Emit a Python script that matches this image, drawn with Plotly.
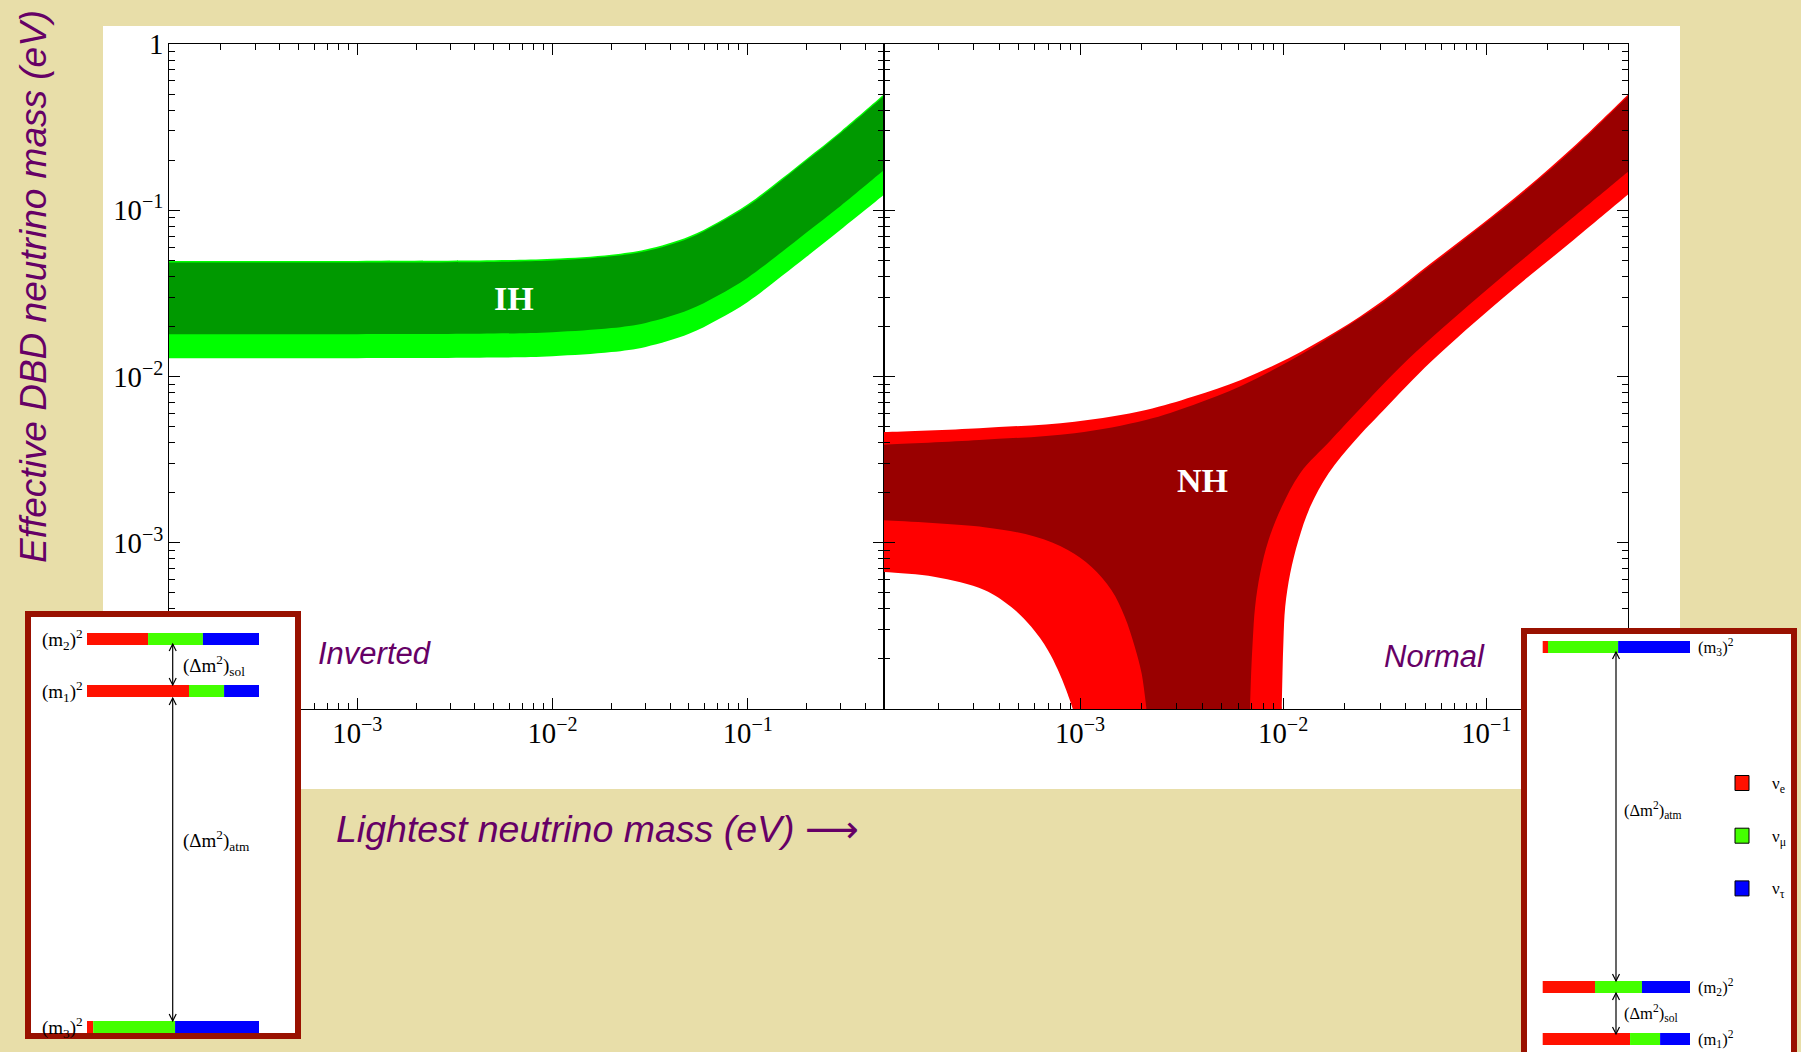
import plotly.graph_objects as go

# ---------------- data ----------------
# Inverted hierarchy band (left panel)
ih_m = [1.0e-4, 1e-3, 5e-3, 0.01, 0.02, 0.03, 0.05, 0.07, 0.1, 0.15, 0.2, 0.3, 0.5]
ih_outer_upper = [0.0496, 0.0496, 0.0500, 0.0510, 0.0540, 0.0580, 0.0695, 0.0845, 0.1085, 0.1555, 0.2035, 0.2980, 0.4990]
ih_inner_upper = [0.0485, 0.0485, 0.0489, 0.0498, 0.0528, 0.0567, 0.0679, 0.0826, 0.1060, 0.1520, 0.1990, 0.2915, 0.4880]
ih_inner_lower = [0.01797, 0.01797, 0.01812, 0.01848, 0.01956, 0.02101, 0.02518, 0.03061, 0.03930, 0.05630, 0.0735, 0.1065, 0.1750]
ih_outer_lower = [0.01288, 0.01288, 0.01299, 0.01324, 0.01402, 0.01506, 0.01805, 0.02194, 0.02810, 0.04030, 0.05250, 0.0765, 0.1240]

# Normal hierarchy band (right panel)
nh_up_m = [1.0e-4, 3.19e-4, 9.4e-4, 2.11e-3, 3.61e-3, 6.2e-3, 1.064e-2, 1.824e-2, 3.13e-2, 5.36e-2, 9.2e-2, 0.158, 0.27, 0.5]
nh_outer_upper = [0.00462, 0.00489, 0.00535, 0.00629, 0.00757, 0.00954, 0.01288, 0.01862, 0.0289, 0.0481, 0.0798, 0.136, 0.2415, 0.499]
nh_inner_upper = [0.00387, 0.00415, 0.00456, 0.00548, 0.00675, 0.00878, 0.0123, 0.01822, 0.0281, 0.0468, 0.0778, 0.1325, 0.235, 0.487]

nh_outer_lowR_m = [0.5, 0.270, 0.1205, 0.0536, 0.0313, 0.0227, 0.01675, 0.01361, 0.01191, 0.01084, 0.01024, 0.01004, 0.00993, 0.00986]
nh_outer_lowR_y = [0.1245, 0.0664, 0.0296, 0.0123, 0.00629, 0.00415, 0.00262, 0.00165, 0.00104, 6.55e-4, 4.12e-4, 2.6e-4, 1.64e-4, 1.03e-4]
nh_inner_lowR_m = [0.5, 0.2065, 0.092, 0.041, 0.0228, 0.0172, 0.01213, 0.00986, 0.00848, 0.00771, 0.00728, 0.00709, 0.00696, 0.00688]
nh_inner_lowR_y = [0.171, 0.0695, 0.0303, 0.0126, 0.00601, 0.00415, 0.00262, 0.00165, 0.00104, 6.55e-4, 4.12e-4, 2.6e-4, 1.64e-4, 1.03e-4]

nh_outer_lowL_m = [1.0e-4, 1.91e-4, 3.38e-4, 4.57e-4, 5.74e-4, 6.95e-4, 7.78e-4, 8.55e-4, 9.23e-4]
nh_outer_lowL_y = [6.7e-4, 6.25e-4, 5.2e-4, 4.12e-4, 3.13e-4, 2.26e-4, 1.72e-4, 1.3e-4, 1.0e-4]
nh_inner_lowL_m = [1.0e-4, 3.38e-4, 5.97e-4, 8.71e-4, 1.137e-3, 1.427e-3, 1.66e-3, 1.86e-3, 2.01e-3, 2.12e-3]
nh_inner_lowL_y = [1.37e-3, 1.24e-3, 1.09e-3, 9.05e-4, 7.18e-4, 5.2e-4, 3.59e-4, 2.37e-4, 1.64e-4, 1.03e-4]

# flavour content of the mass states (nu_e, nu_mu, nu_tau)
flavours = ["e", "μ", "τ"]
frac_m1 = [0.593, 0.204, 0.203]
frac_m2 = [0.355, 0.319, 0.326]
frac_m3 = [0.036, 0.476, 0.488]

# ---------------- styling ----------------
W, H = 1801, 1052
BEIGE = "#E8DEA9"
PURPLE = "#660066"
FLAV_COL = ["#FF1100", "#44FF00", "#0000FF"]
BORDER = "#991100"
SANS = "Liberation Sans, Arial, sans-serif"
SERIF = "Liberation Serif, Times New Roman, serif"
FLOOR = 5e-5


def px(x):
    return x / W


def py(y):
    return 1 - y / H


def poly(*segs):
    xs, ys = [], []
    for sx, sy in segs:
        sx, sy = list(sx), list(sy)
        xs += [sx[0]] + sx + [sx[-1]]
        ys += [sy[0]] + sy + [sy[-1]]
    return xs, ys


fig = go.Figure()


def band(xs, ys, color, xa, ya):
    fig.add_trace(go.Scatter(x=xs, y=ys, xaxis=xa, yaxis=ya, mode="lines", fill="toself",
                             fillcolor=color, line=dict(width=0, shape="spline", smoothing=1),
                             hoverinfo="skip", showlegend=False))


# IH
band(*poly((ih_m, ih_outer_upper), (ih_m[::-1], ih_outer_lower[::-1])), "#00FF00", "x", "y")
band(*poly((ih_m, ih_inner_upper), (ih_m[::-1], ih_inner_lower[::-1])), "#009900", "x", "y")

# NH
band(*poly((nh_up_m, nh_outer_upper), (nh_outer_lowR_m, nh_outer_lowR_y),
           ([nh_outer_lowR_m[-1], nh_outer_lowL_m[-1]], [FLOOR, FLOOR]),
           (nh_outer_lowL_m[::-1], nh_outer_lowL_y[::-1])), "#FF0000", "x2", "y2")
band(*poly((nh_up_m, nh_inner_upper), (nh_inner_lowR_m, nh_inner_lowR_y),
           ([nh_inner_lowR_m[-1], nh_inner_lowL_m[-1]], [FLOOR, FLOOR]),
           (nh_inner_lowL_m[::-1], nh_inner_lowL_y[::-1])), "#990000", "x2", "y2")

tickfont = dict(family=SERIF, size=23, color="black")
axis_common = dict(type="log", showline=True, linecolor="black", linewidth=1.2, mirror="allticks",
                   ticks="inside", ticklen=11, tickwidth=1.2, tickcolor="black", showgrid=False,
                   zeroline=False, dtick=1, exponentformat="power", tickfont=tickfont, automargin=False,
                   minor=dict(ticks="inside", ticklen=5.5, tickwidth=1.1, tickcolor="black", showgrid=False))

XL = [169, 884]
XR = [884, 1628]
YT, YB = 44, 709

fig.update_layout(
    width=W, height=H, margin=dict(l=0, r=0, t=0, b=0, pad=0, autoexpand=False),
    paper_bgcolor=BEIGE, plot_bgcolor="white", showlegend=False,
    xaxis=dict(axis_common, range=[-3.965, -0.302], domain=[px(XL[0]), px(XL[1])], anchor="y"),
    xaxis2=dict(axis_common, range=[-3.965, -0.302], domain=[px(XR[0]), px(XR[1])], anchor="y2"),
    yaxis=dict(axis_common, range=[-4, 0], domain=[py(YB), py(YT)], anchor="x"),
    yaxis2=dict(axis_common, range=[-4, 0], domain=[py(YB), py(YT)], anchor="x2", showticklabels=False),
)

shapes = []
annotations = []

# white panel behind plots
shapes.append(dict(type="rect", xref="paper", yref="paper", x0=px(103), x1=px(1680), y0=py(789), y1=py(26),
                   fillcolor="white", line=dict(width=0), layer="below"))


def ann(x, y, text, size, family=SANS, color="black", xanchor="center", yanchor="middle", **kw):
    annotations.append(dict(xref="paper", yref="paper", x=px(x), y=py(y), text=text, showarrow=False,
                            xanchor=xanchor, yanchor=yanchor, font=dict(family=family, size=size, color=color), **kw))


def rect(x0, x1, y0, y1, fill, line=None):
    shapes.append(dict(type="rect", xref="paper", yref="paper", x0=px(x0), x1=px(x1), y0=py(y1), y1=py(y0),
                       fillcolor=fill, line=line or dict(width=0), layer="above"))


def path(d_pts, width=1.2, color="black"):
    d = ""
    for i, (x, y) in enumerate(d_pts):
        d += ("M " if i == 0 else " L ") + f"{px(x)},{py(y)}"
    shapes.append(dict(type="path", xref="paper", yref="paper", path=d, line=dict(color=color, width=width),
                       layer="above"))


def darrow(x, y0, y1):
    path([(x, y0), (x, y1)])
    path([(x - 3.5, y0 + 7), (x, y0), (x + 3.5, y0 + 7)])
    path([(x - 3.5, y1 - 7), (x, y1), (x + 3.5, y1 - 7)])


def massbar(x0, x1, y0, y1, fracs):
    cur = x0
    for f, c in zip(fracs, FLAV_COL):
        nxt = cur + f * (x1 - x0)
        rect(cur, nxt, y0, y1, c)
        cur = nxt


# ---- left inset (inverted ordering) ----
rect(28, 298, 614, 1036, "white", dict(color=BORDER, width=6))
massbar(87, 259, 633, 645, frac_m2)
massbar(87, 259, 685, 697, frac_m1)
massbar(87, 259, 1021, 1033, frac_m3)
darrow(172.7, 644, 685)
darrow(172.7, 698, 1021)
ann(85, 639, "(m<sub>2</sub>)<sup>2</sup>", 19, SERIF, xanchor="right")
ann(85, 691, "(m<sub>1</sub>)<sup>2</sup>", 19, SERIF, xanchor="right")
ann(85, 1027, "(m<sub>3</sub>)<sup>2</sup>", 19, SERIF, xanchor="right")
ann(181, 665, "(Δm<sup>2</sup>)<sub>sol</sub>", 19, SERIF, xanchor="left")
ann(181, 840, "(Δm<sup>2</sup>)<sub>atm</sub>", 19, SERIF, xanchor="left")

# ---- right inset (normal ordering) ----
rect(1524, 1794, 631, 1070, "white", dict(color=BORDER, width=6))
massbar(1542.7, 1690, 641, 653, frac_m3)
massbar(1542.7, 1690, 981, 993, frac_m2)
massbar(1542.7, 1690, 1033, 1045, frac_m1)
darrow(1616, 652, 981)
darrow(1616, 993, 1034)
ann(1696, 647, "(m<sub>3</sub>)<sup>2</sup>", 16.5, SERIF, xanchor="left")
ann(1696, 987, "(m<sub>2</sub>)<sup>2</sup>", 16.5, SERIF, xanchor="left")
ann(1696, 1039, "(m<sub>1</sub>)<sup>2</sup>", 16.5, SERIF, xanchor="left")
ann(1622, 810, "(Δm<sup>2</sup>)<sub>atm</sub>", 16.5, SERIF, xanchor="left")
ann(1622, 1013, "(Δm<sup>2</sup>)<sub>sol</sub>", 16.5, SERIF, xanchor="left")
for i, (fl, c) in enumerate(zip(flavours, FLAV_COL)):
    yc = 783 + i * 52.7
    rect(1735, 1749, yc - 7.5, yc + 7.5, c, dict(color="black", width=1))
    ann(1770, yc + 2, f"ν<sub>{fl}</sub>", 17, SERIF, xanchor="left")

# ---- texts ----
ann(514, 298, "<b>IH</b>", 34, SERIF, color="white")
ann(1202, 480, "<b>NH</b>", 34, SERIF, color="white")
ann(375, 653, "<i>Inverted</i>", 31, SANS, color=PURPLE)
ann(1434, 656, "<i>Normal</i>", 31, SANS, color=PURPLE)
ann(33, 287, "<i>Effective DBD neutrino mass (eV)</i>", 37, SANS, color=PURPLE, textangle=-90)
ann(597, 829, "<i>Lightest neutrino mass (eV)</i> <span style=\"font-family:DejaVu Sans\">⟶</span>",
    37.5, SANS, color=PURPLE)

fig.update_layout(shapes=shapes, annotations=annotations)

fig.write_html("out.html", config={"displayModeBar": False},
               post_script="document.body.style.margin='0';document.body.style.overflow='hidden';")
